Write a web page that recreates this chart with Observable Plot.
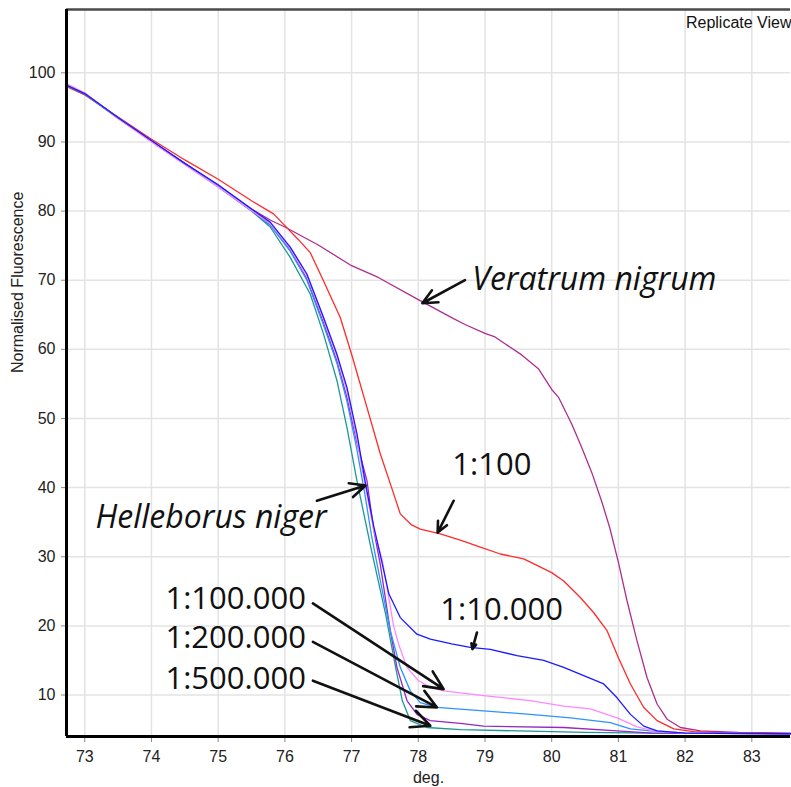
<!DOCTYPE html>
<html><head><meta charset="utf-8">
<script src="https://cdn.jsdelivr.net/npm/d3@7"></script>
<script src="https://cdn.jsdelivr.net/npm/@observablehq/plot@0.6"></script>
<style>body{margin:0;background:#fff} svg{display:block}</style>
</head><body><div id="chart"></div>
<script>
const xDomain = [72.726, 83.58];
const yDomain = [4.0, 109.16];
const xTicks = [73, 74, 75, 76, 77, 78, 79, 80, 81, 82, 83];
const yTicks = [10, 20, 30, 40, 50, 60, 70, 80, 90, 100];
const xLabel = "deg.";
const yLabel = "Normalised Fluorescence";
const viewLabel = "Replicate View";

// series: [temperature, normalised fluorescence]
const veratrum = [[72.73,98.3],[73.0,97.0],[73.5,93.5],[74.0,90.1],[74.5,86.9],[75.0,83.7],[75.5,80.3],[75.8,78.6],[76.0,77.7],[76.5,75.1],[77.0,72.1],[77.4,70.4],[78.0,67.2],[78.5,64.6],[78.7,63.6],[79.0,62.3],[79.15,61.8],[79.3,60.8],[79.55,59.2],[79.8,57.2],[80.0,54.2],[80.1,53.1],[80.3,49.2],[80.45,45.8],[80.6,42.2],[80.75,38.0],[80.87,34.2],[81.0,29.2],[81.13,23.6],[81.28,17.8],[81.43,12.5],[81.58,8.7],[81.73,6.5],[81.93,5.3],[82.23,4.8],[82.8,4.6],[83.58,4.5]];
const dil100 = [[72.73,98.0],[73.0,96.8],[73.5,93.6],[74.0,90.4],[74.5,87.4],[75.0,84.6],[75.5,81.5],[75.83,79.6],[76.0,77.9],[76.2,75.9],[76.38,74.0],[76.58,69.9],[76.83,64.6],[77.0,59.3],[77.23,51.6],[77.43,44.9],[77.6,40.0],[77.73,36.2],[77.9,34.6],[78.03,34.0],[78.33,33.3],[78.63,32.4],[78.93,31.4],[79.23,30.4],[79.58,29.7],[80.0,27.7],[80.18,26.5],[80.43,24.1],[80.63,21.9],[80.83,19.3],[81.0,15.4],[81.18,11.6],[81.38,8.2],[81.58,6.3],[81.83,5.1],[82.13,4.7],[82.8,4.5],[83.58,4.4]];
const dil10000 = [[72.73,98.2],[73.0,97.0],[73.5,93.5],[74.0,90.2],[74.5,86.9],[75.0,83.8],[75.5,80.3],[75.78,78.4],[76.08,74.8],[76.33,70.9],[76.58,64.6],[76.78,59.3],[76.93,54.5],[77.08,47.8],[77.21,40.5],[77.33,34.5],[77.45,29.4],[77.56,24.6],[77.73,21.2],[77.98,18.8],[78.18,18.1],[78.5,17.4],[78.78,16.9],[79.08,16.6],[79.48,15.7],[79.88,15.0],[80.18,14.0],[80.48,12.8],[80.78,11.6],[80.98,9.6],[81.18,7.2],[81.38,5.5],[81.58,4.8],[82.0,4.5],[83.58,4.4]];
const dil100000 = [[72.73,98.4],[73.0,97.1],[73.5,93.4],[74.0,90.0],[74.5,86.7],[75.0,83.5],[75.5,80.1],[75.78,78.2],[76.08,74.6],[76.33,70.6],[76.58,64.3],[76.78,59.0],[76.93,54.0],[77.08,47.0],[77.2,40.5],[77.33,34.0],[77.46,29.5],[77.63,20.0],[77.7,17.5],[77.83,14.0],[78.0,12.1],[78.18,11.1],[78.38,10.6],[78.98,9.9],[79.68,9.2],[80.18,8.4],[80.58,8.0],[80.98,6.7],[81.28,5.4],[81.53,4.8],[82.0,4.5],[83.58,4.4]];
const dil200000 = [[72.73,98.2],[73.0,97.0],[73.5,93.5],[74.0,90.1],[74.5,86.8],[75.0,83.6],[75.5,80.1],[75.78,78.0],[76.08,74.2],[76.33,70.0],[76.58,63.5],[76.78,58.0],[76.93,52.5],[77.08,45.5],[77.2,39.0],[77.3,33.0],[77.43,26.6],[77.58,19.3],[77.73,14.0],[77.88,10.6],[78.03,8.9],[78.28,8.2],[78.98,7.7],[79.68,7.2],[80.28,6.7],[80.88,6.0],[81.18,5.1],[81.48,4.8],[82.0,4.5],[83.58,4.4]];
const dil500000 = [[72.73,98.2],[73.0,97.0],[73.5,93.5],[74.0,90.1],[74.5,86.8],[75.0,83.6],[75.5,80.1],[75.78,78.0],[76.08,74.3],[76.33,70.2],[76.58,63.8],[76.78,58.3],[76.93,53.0],[77.08,46.5],[77.23,41.0],[77.33,34.0],[77.43,28.9],[77.58,19.3],[77.68,14.0],[77.83,9.2],[77.98,7.2],[78.18,6.3],[78.63,5.9],[78.98,5.5],[80.18,5.3],[80.98,4.8],[81.5,4.5],[83.58,4.4]];
const helleborus = [[72.73,98.1],[73.0,96.9],[73.5,93.4],[74.0,90.1],[74.5,86.8],[75.0,83.5],[75.5,80.0],[75.78,77.7],[76.08,73.3],[76.38,68.0],[76.58,62.2],[76.78,55.5],[76.93,48.7],[77.08,41.0],[77.29,31.3],[77.51,21.7],[77.66,14.0],[77.76,9.2],[77.88,6.3],[78.13,5.3],[78.63,5.0],[79.5,4.8],[80.5,4.6],[81.5,4.5],[83.58,4.4]];

const seriesNames = ["Veratrum nigrum","1:100","Helleborus niger","1:500.000","1:200.000","1:100.000","1:10.000"];
const seriesData = [veratrum, dil100, helleborus, dil500000, dil200000, dil100000, dil10000];
const seriesColors = ["#ad2e8e","#ff2a2a","#1f9696","#9527c4","#2c93ff","#ff88ff","#1a1aff"];

// annotations
const annLabels = ["Veratrum nigrum","Helleborus niger","1:100","1:10.000","1:100.000","1:200.000","1:500.000"];
const annX = [78.81, 73.16, 78.51, 78.33, 74.21, 74.21, 74.21];
const annY = [70.1, 35.65, 43.32, 22.34, 23.86, 18.28, 12.35];
const annItalic = [true, true, false, false, false, false, false];
const arrowX1 = [78.70, 76.48, 78.53, 78.88, 76.42, 76.42, 76.42];
const arrowY1 = [70.0, 38.1, 38.1, 19.05, 23.26, 17.7, 12.07];
const arrowX2 = [78.06, 77.21, 78.29, 78.81, 78.38, 78.28, 78.18];
const arrowY2 = [66.67, 40.3, 33.5, 16.65, 10.85, 8.2, 5.56];

const ann = annLabels.map((t, i) => ({t, x: annX[i], y: annY[i], it: annItalic[i]}));
const arrows = annLabels.map((t, i) => ({x1: arrowX1[i], y1: arrowY1[i], x2: arrowX2[i], y2: arrowY2[i]}));

const lines = seriesData.map((d, i) =>
  Plot.line(d, {x: p => p[0], y: p => p[1], stroke: seriesColors[i], strokeWidth: 1.3})
);

const chart = Plot.plot({
  width: 791,
  height: 787,
  marginLeft: 66,
  marginRight: 1,
  marginTop: 9,
  marginBottom: 51,
  style: {fontFamily: "Arial, 'Liberation Sans', sans-serif", fontSize: "16px", color: "#222", background: "#fff"},
  x: {domain: xDomain},
  y: {domain: yDomain},
  marks: [
    Plot.gridX(xTicks, {stroke: "#e3e3e3", strokeOpacity: 1, strokeWidth: 1.5}),
    Plot.gridY(yTicks, {stroke: "#e3e3e3", strokeOpacity: 1, strokeWidth: 1.5}),
    Plot.axisX(xTicks, {tickSize: 6, tickPadding: 8, stroke: "#888", fill: "#222", label: null, fontSize: 16}),
    Plot.axisY(yTicks, {tickSize: 5, tickPadding: 6, stroke: "#888", fill: "#222", label: null, fontSize: 16}),
    ...lines,
    Plot.ruleY([yDomain[1]], {stroke: "#4a4a4a", strokeWidth: 2.7}),
    Plot.ruleX([xDomain[0]], {stroke: "#000", strokeWidth: 3}),
    Plot.ruleY([yDomain[0]], {stroke: "#000", strokeWidth: 3}),
    Plot.text([viewLabel], {frameAnchor: "top-right", text: d => d, dy: 7, dx: 1, textAnchor: "end", fontSize: 16, fill: "#111"}),
    Plot.text([xLabel], {frameAnchor: "bottom", text: d => d, dy: 46, fontSize: 16, fill: "#222"}),
    Plot.text([yLabel], {frameAnchor: "left", text: d => d, dx: -49, rotate: -90, fontSize: 16, fill: "#222"}),
    Plot.arrow(arrows, {x1: "x1", y1: "y1", x2: "x2", y2: "y2", stroke: "#111", strokeWidth: 2.6, headLength: 12, headAngle: 50}),
    Plot.text(ann.filter(d => d.it), {x: "x", y: "y", text: "t", textAnchor: "start", fontFamily: "'Open Sans', sans-serif", fontStyle: "italic", fontSize: 32, fill: "#111"}),
    Plot.text(ann.filter(d => !d.it), {x: "x", y: "y", text: "t", textAnchor: "start", fontFamily: "'Open Sans', sans-serif", fontSize: 31, fill: "#111"})
  ]
});
document.getElementById("chart").appendChild(chart);
</script>
</body></html>
